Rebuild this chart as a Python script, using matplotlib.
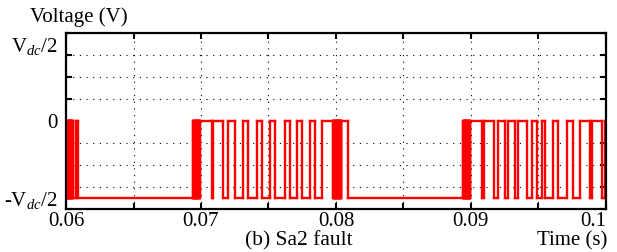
import matplotlib
matplotlib.use('Agg')
import matplotlib.pyplot as plt
from matplotlib.collections import LineCollection
import numpy as np

plt.rcParams['font.family'] = 'Liberation Serif'
plt.rcParams['mathtext.fontset'] = 'custom'
plt.rcParams['mathtext.rm'] = 'Liberation Serif'
plt.rcParams['mathtext.it'] = 'Liberation Serif:italic'

# switching instants (s): intervals where the phase voltage sits at 0 V,
# everywhere else it is at -Vdc/2
high_start = [0.06000, 0.06005, 0.06010, 0.06015, 0.06020, 0.06025, 0.06030,
              0.06035, 0.06040, 0.06045, 0.06050, 0.06076,
              0.06941, 0.06946, 0.06951, 0.06956, 0.06961, 0.06966, 0.06971,
              0.06976, 0.06981, 0.06986, 0.06991,
              0.07091, 0.07200, 0.07311, 0.07415, 0.07511, 0.07622, 0.07711,
              0.07807, 0.07896,
              0.07981, 0.07986, 0.07991, 0.07996, 0.08001, 0.08006, 0.08011,
              0.08016, 0.08021, 0.08026, 0.08031, 0.08036, 0.08041,
              0.08941, 0.08946, 0.08951, 0.08956, 0.08961, 0.08966, 0.08971,
              0.08976, 0.08981, 0.08986, 0.08991, 0.08996,
              0.09096, 0.09200, 0.09274, 0.09348, 0.09452, 0.09526, 0.09607,
              0.09711, 0.09807, 0.09896, 0.09993]
high_end = [0.06003, 0.06008, 0.06013, 0.06018, 0.06023, 0.06028, 0.06033,
            0.06038, 0.06043, 0.06048, 0.06053, 0.06089,
            0.06944, 0.06949, 0.06954, 0.06959, 0.06964, 0.06969, 0.06974,
            0.06979, 0.06984, 0.06989, 0.07081,
            0.07163, 0.07252, 0.07348, 0.07452, 0.07548, 0.07659, 0.07748,
            0.07844, 0.07978,
            0.07984, 0.07989, 0.07994, 0.07999, 0.08004, 0.08009, 0.08014,
            0.08019, 0.08024, 0.08029, 0.08034, 0.08039, 0.08089,
            0.08944, 0.08949, 0.08954, 0.08959, 0.08964, 0.08969, 0.08974,
            0.08979, 0.08984, 0.08989, 0.08994, 0.09081,
            0.09170, 0.09252, 0.09326, 0.09415, 0.09489, 0.09548, 0.09644,
            0.09756, 0.09881, 0.09970, 0.10010]

v_high = 0.0
v_low = -350.0   # -Vdc/2 with Vdc = 700 V

t = [0.06]
v = [v_low]
for s, e in zip(high_start, high_end):
    t += [s, s, e, e]
    v += [v_low, v_high, v_high, v_low]
t.append(0.1)
v.append(v_low)

# draw every piece of the step trace on its own so that the dense
# switching bursts render as solid blocks
segs = []
for i in range(len(t) - 1):
    if t[i] == t[i + 1] and v[i] == v[i + 1]:
        continue
    segs.append([(t[i], v[i]), (t[i + 1], v[i + 1])])

fig = plt.figure(figsize=(6.17, 2.52), dpi=100)
ax = fig.add_axes([0.107, 0.171, 0.875, 0.698])

lc = LineCollection(segs, colors='red', linewidths=1.7, capstyle='projecting')
ax.add_collection(lc)

ax.set_xlim(0.06, 0.1)
ax.set_ylim(-400, 400)

ax.set_xticks([0.06, 0.07, 0.08, 0.09, 0.1])
ax.set_xticklabels(['0.06', '0.07', '0.08', '0.09', '0.1'])
ax.set_xticks(np.arange(0.065, 0.1, 0.01), minor=True)
ax.set_yticks([-350, 0, 350])
ax.set_yticklabels(['-V$_{dc}$/2', '0', 'V$_{dc}$/2'])
ax.set_yticks(np.arange(-400, 401, 100), minor=True)

ax.tick_params(axis='both', which='both', direction='in', top=True,
               right=True, labelsize=15, width=1.5)
ax.tick_params(axis='x', which='both', length=4, pad=2)
ax.tick_params(axis='y', which='major', length=0, pad=6)
ax.tick_params(axis='y', which='minor', length=4)

# last x label sits flush with the right edge of the frame
ax.get_xticklabels()[-1].set_horizontalalignment('right')

ax.grid(True, which='both', axis='x', color='black', linewidth=0.8,
        linestyle=(0, (1, 5)))
ax.grid(True, which='minor', axis='y', color='black', linewidth=0.8,
        linestyle=(0, (1, 5)))

for sp in ax.spines.values():
    sp.set_linewidth(1.6)

fig.text(0.049, 0.933, 'Voltage (V)', fontsize=15, ha='left', va='center')
fig.text(0.485, 0.045, '(b) Sa2 fault', fontsize=15.5, ha='center', va='center')
fig.text(0.984, 0.045, 'Time (s)', fontsize=15, ha='right', va='center')

fig.savefig('out.png', dpi=100)
